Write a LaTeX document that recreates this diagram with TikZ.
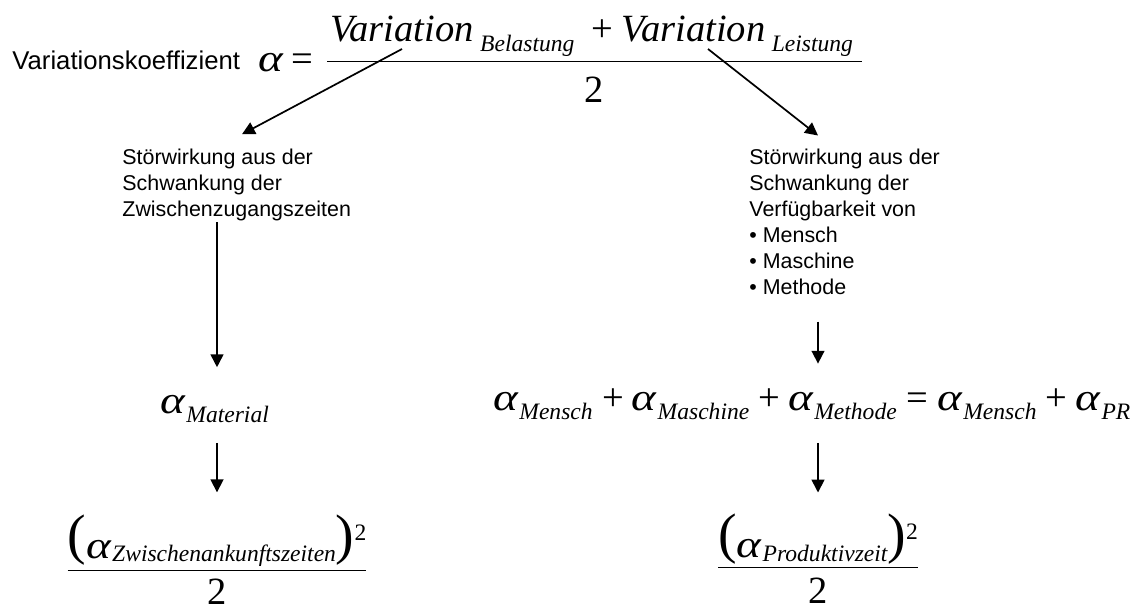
\documentclass[tikz,border=0pt]{standalone}
\usepackage{fontspec}
\setmainfont{Liberation Serif}
\setsansfont{Liberation Sans}
\usetikzlibrary{arrows.meta,calc}

% Index tiefgestellt, Exponent hochgestellt, grosse Klammern
\newcommand{\al}{\scalebox{1.22}[1]{α}}
\newcommand{\tief}[2][4.6pt]{\hspace{0.6pt}\raisebox{-#1}{\fontsize{11}{11}\selectfont #2}}
\newcommand{\hoch}[1]{\raisebox{8.4pt}{\fontsize{11}{11}\selectfont\upshape #1}}
\newcommand{\klammer}[1]{\raisebox{2.5pt}{\fontsize{26}{26}\selectfont\upshape(}#1\raisebox{2.5pt}{\fontsize{26}{26}\selectfont\upshape)}}
% Bruch: Zaehler, Nenner, Abstand Zaehler, Abstand Nenner
\newcommand{\bruch}[4]{$\textstyle\frac{\hbox{\rule[-#3]{0pt}{0pt}#1}}{\hbox{\rule{0pt}{#4}#2}}$}

\begin{document}
\begin{tikzpicture}[x=0.467pt, y=-0.467pt,
    beschriftung/.style={inner sep=0pt, font=\fontsize{10}{12.1}\selectfont\sffamily, align=left, anchor=base west},
    formel/.style={inner sep=0pt, font=\fontsize{18}{20}\selectfont\itshape},
    pfeil/.style={line width=0.8pt, -{Triangle[length=6pt, width=6pt]}}]
    \useasboundingbox (0,0) rectangle (1143,611);

    % Kopfzeile
    \node[inner sep=0pt, anchor=base west, font=\fontsize{12}{14}\selectfont\sffamily] (koeff) at (12,69) {Variationskoeffizient};
    \node[formel, anchor=base west] (gesamt) at (258,71) {\al\hspace{3.7pt}{\upshape =}\hspace{5.6pt}\bruch{\hspace{1.4pt}Variation\hspace{2.4pt}\tief{Belastung}\hspace{8pt}{\upshape +}\hspace{4pt}Variation\hspace{2.4pt}\tief{Leistung}\hspace{4pt}}{\upshape 2}{8.7pt}{18.5pt}};
    \coordinate (vbel) at (402,49);
    \coordinate (vleist) at (708,49);

    % Stoerwirkungen
    \node[beschriftung] (stoerlinks) at (122,216) {Störwirkung aus der\\Schwankung der\\Zwischenzugangszeiten};
    \node[beschriftung] (stoerrechts) at (749,294) {Störwirkung aus der\\Schwankung der\\Verfügbarkeit von\\• Mensch\\• Maschine\\• Methode};

    % Variationskoeffizienten
    \node[formel, anchor=base west] (alphamat) at (160,413) {\al\tief{Material}};
    \node[formel, anchor=base west] (alphasumme) at (493,410) {\al\tief{Mensch}\hspace{4.4pt}{\upshape +}\hspace{3.7pt}\al\tief{Maschine}\hspace{4.4pt}{\upshape +}\hspace{3.7pt}\al\tief{Methode}\hspace{4.4pt}{\upshape =}\hspace{4.4pt}\al\tief{Mensch}\hspace{4.4pt}{\upshape +}\hspace{3.7pt}\al\tief{PR}};

    % Quadrierte Koeffizienten
    \node[formel, anchor=base] (zwbruch) at (217,580) {\bruch{\klammer{\al\tief[1.5pt]{Zwischenankunftszeiten}}\hoch{2}}{\upshape 2}{5pt}{15pt}};
    \node[formel, anchor=base] (prodbruch) at (818,577) {\bruch{\klammer{\al\tief[1.5pt]{Produktivzeit}}\hoch{2}}{\upshape 2}{4pt}{16pt}};

    % Pfeile
    \draw[pfeil] (vbel) -- ($(stoerlinks.north west)+(120,-14)$);
    \draw[pfeil] (vleist) -- ($(stoerrechts.north west)+(69,-13)$);
    \draw[pfeil, shorten <=0.7pt, shorten >=12.7pt] (stoerlinks.south -| zwbruch.north) -- (alphamat.north -| zwbruch.north);
    \draw[pfeil, shorten <=9pt, shorten >=10.3pt] (alphamat.south -| zwbruch.north) -- (zwbruch.north);
    \draw[pfeil, shorten <=12.6pt, shorten >=11.3pt] (stoerrechts.south -| prodbruch.north) -- (alphasumme.north -| prodbruch.north);
    \draw[pfeil, shorten <=10.4pt, shorten >=9.8pt] (alphasumme.south -| prodbruch.north) -- (prodbruch.north);
\end{tikzpicture}
\end{document}
